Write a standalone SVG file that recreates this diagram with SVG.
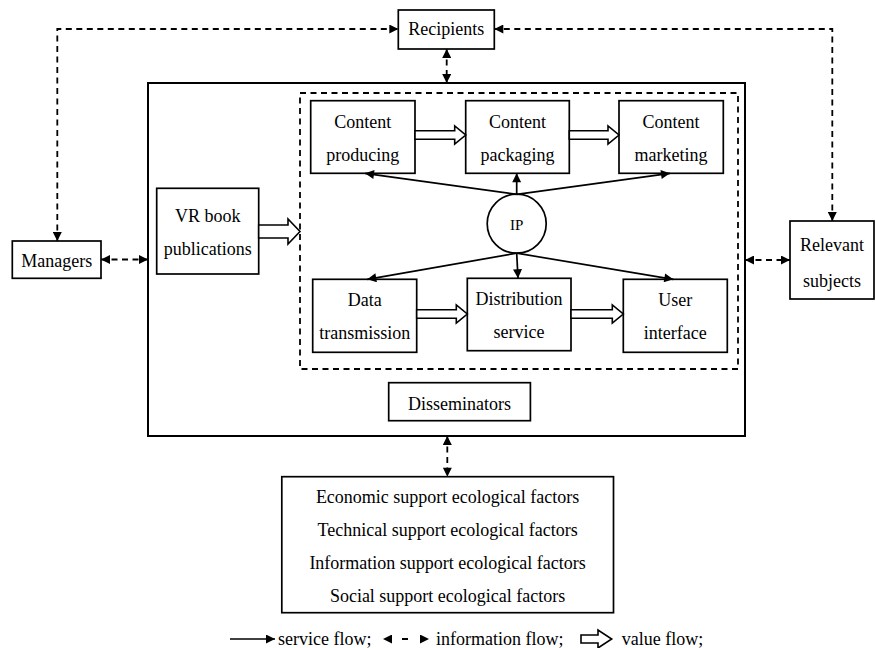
<svg xmlns="http://www.w3.org/2000/svg" width="875" height="648" viewBox="0 0 875 648">
<defs>
<marker id="ah" viewBox="0 0 10 10" refX="10" refY="5" markerWidth="10" markerHeight="9" markerUnits="userSpaceOnUse" orient="auto-start-reverse">
<path d="M0,0 L10,5 L0,10 z" fill="#000"/>
</marker>
<style>
text{font-family:"Liberation Serif","Times New Roman",serif;font-size:18px;fill:#000;text-anchor:middle}
.box{fill:#fff;stroke:#000;stroke-width:1.7}
.main{fill:none;stroke:#000;stroke-width:2}
.inner{fill:none;stroke:#000;stroke-width:1.8;stroke-dasharray:6 4.5}
.info{fill:none;stroke:#000;stroke-width:1.8;stroke-dasharray:6 4.5;marker-start:url(#ah);marker-end:url(#ah)}
.svc{fill:none;stroke:#000;stroke-width:1.7;marker-end:url(#ah)}
.value{fill:#fff;stroke:#000;stroke-width:1.6;stroke-linejoin:miter}
.leg{text-anchor:start}
</style>
</defs>
<rect width="875" height="648" fill="#fff"/>

<g id="disseminators-frame">
<rect class="main" x="148" y="83" width="597" height="353"/>
<rect class="inner" x="300" y="93" width="438" height="276"/>
</g>

<g id="recipients"><rect class="box" x="398.3" y="10" width="96" height="39"/><text x="446.3" y="35">Recipients</text></g>
<g id="managers"><rect class="box" x="12.3" y="241" width="88.7" height="37.3"/><text x="56.7" y="267">Managers</text></g>
<g id="relevant"><rect class="box" x="790" y="221" width="84" height="78"/><text x="832" y="251">Relevant</text><text x="832" y="287">subjects</text></g>
<g id="vrbook"><rect class="box" x="156.7" y="188.3" width="102" height="85.7"/><text x="207.7" y="222">VR book</text><text x="207.7" y="255">publications</text></g>
<g id="producing"><rect class="box" x="310.7" y="100.7" width="104.3" height="72.6"/><text x="362.8" y="128">Content</text><text x="362.8" y="160.5">producing</text></g>
<g id="packaging"><rect class="box" x="465.7" y="100.7" width="103.6" height="72.6"/><text x="517.5" y="128">Content</text><text x="517.5" y="160.5">packaging</text></g>
<g id="marketing"><rect class="box" x="619" y="100.7" width="104.3" height="72.6"/><text x="671" y="128">Content</text><text x="671" y="160.5">marketing</text></g>
<g id="ip"><circle cx="516.7" cy="223.7" r="29.5" fill="#fff" stroke="#000" stroke-width="1.7"/><text x="516.7" y="229.5" style="font-size:15px">IP</text></g>
<g id="data"><rect class="box" x="312.7" y="279.3" width="104" height="73"/><text x="364.7" y="306">Data</text><text x="364.7" y="339">transmission</text></g>
<g id="distribution"><rect class="box" x="467.3" y="278.3" width="103.7" height="72.4"/><text x="519" y="305">Distribution</text><text x="519" y="338">service</text></g>
<g id="userinterface"><rect class="box" x="623.3" y="279.3" width="104" height="73"/><text x="675.3" y="306">User</text><text x="675.3" y="339">interface</text></g>
<g id="dissem"><rect class="box" x="388.7" y="382.7" width="141.7" height="38"/><text x="459.5" y="409.5">Disseminators</text></g>
<g id="factors"><rect class="box" x="281.8" y="476.7" width="331.7" height="136"/>
<text x="447.6" y="503">Economic support ecological factors</text>
<text x="447.6" y="536">Technical support ecological factors</text>
<text x="447.6" y="568.5">Information support ecological factors</text>
<text x="447.6" y="601.5">Social support ecological factors</text></g>

<g id="connectors">
<path class="info" d="M57.3,241 V29 H398.3"/>
<path class="info" d="M832.3,221 V29 H494.3"/>
<path class="info" d="M446.7,49 V83"/>
<path class="info" d="M101,259.5 H148"/>
<path class="info" d="M745,260 H790"/>
<path class="info" d="M447.3,436 V476.7"/>
<path class="svc" d="M516.7,194.3 L365,173.3"/>
<path class="svc" d="M516.7,194.3 V173.3"/>
<path class="svc" d="M516.7,194.3 L670,173.3"/>
<path class="svc" d="M516.7,253.2 L367.3,279.3"/>
<path class="svc" d="M516.7,253.2 L518,278.3"/>
<path class="svc" d="M516.7,253.2 L673.3,279.3"/>
<polygon class="value" points="415,130.7 454.7,130.7 454.7,126 465.7,135 454.7,144 454.7,139.3 415,139.3"/>
<polygon class="value" points="569.3,130.7 608,130.7 608,126 619,135 608,144 608,139.3 569.3,139.3"/>
<polygon class="value" points="416.7,309.7 456.3,309.7 456.3,305 467.3,314 456.3,323 456.3,318.3 416.7,318.3"/>
<polygon class="value" points="571,309.7 612.3,309.7 612.3,305 623.3,314 612.3,323 612.3,318.3 571,318.3"/>
<polygon class="value" points="258.7,225 288,225 288,219 300,231.5 288,244 288,238 258.7,238"/>
</g>

<g id="legend">
<path class="svc" d="M230,639 H275"/>
<text class="leg" x="278" y="645">service flow;</text>
<path class="info" d="M383,639 H429" style="stroke-dasharray:0 19 6 30"/>
<text class="leg" x="436" y="645">information flow;</text>
<polygon class="value" points="581,635 598,635 598,630 611.7,639 598,648 598,643 581,643"/>
<text class="leg" x="621.7" y="645">value flow;</text>
</g>
</svg>
